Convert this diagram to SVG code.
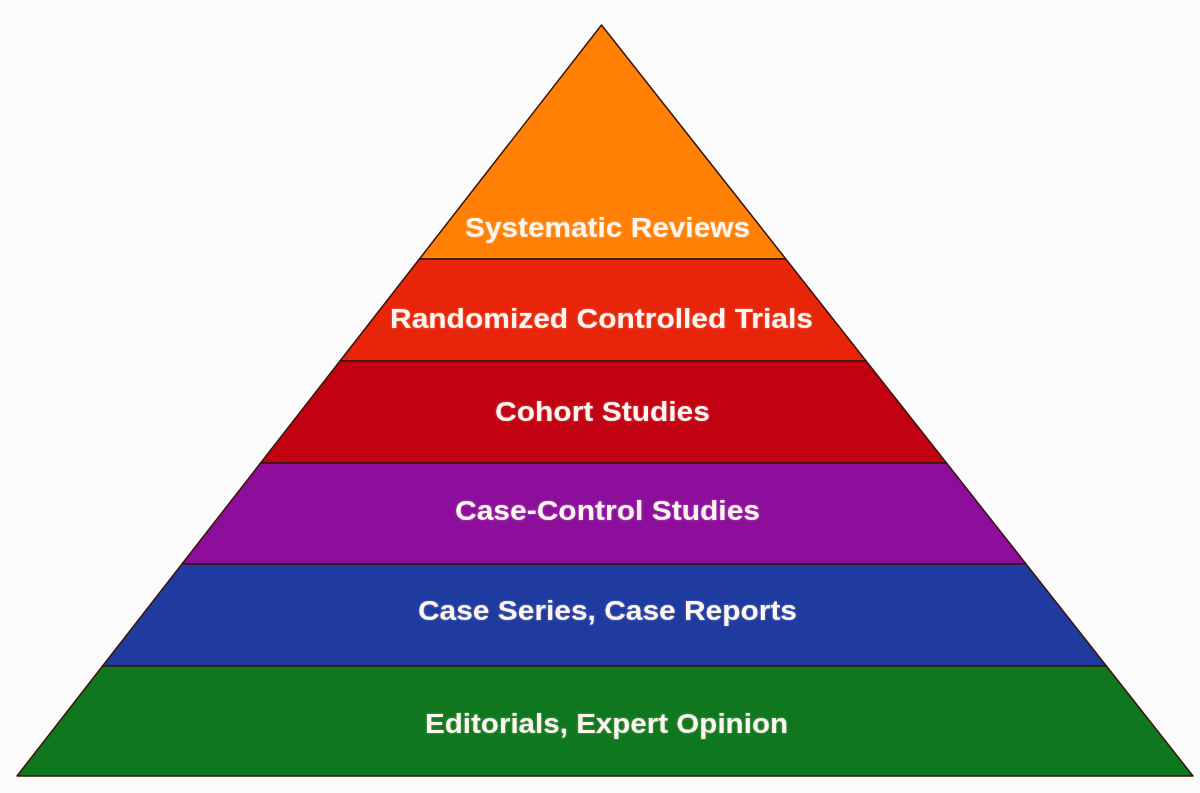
<svg xmlns="http://www.w3.org/2000/svg" width="1200" height="793" viewBox="0 0 1200 793">
<style>
.band{stroke:#3a1408;stroke-width:1.5;stroke-linejoin:round}
.lbl{font-family:"Liberation Sans",Arial,sans-serif;font-weight:bold;font-size:28px;fill:#fdf5ee;text-anchor:middle;filter:url(#glow)}
</style>
<defs>
<filter id="glow" x="-5%" y="-30%" width="110%" height="160%">
<feGaussianBlur in="SourceAlpha" stdDeviation="1.2" result="b"/>
<feFlood flood-color="#ffffff" flood-opacity="0.35"/>
<feComposite in2="b" operator="in" result="g"/>
<feMerge><feMergeNode in="g"/><feMergeNode in="SourceGraphic"/></feMerge>
</filter>
</defs>
<rect width="1200" height="793" fill="#fbfbfb"/>
<g id="layer-systematic-reviews">
<polygon class="band" fill="#ff8004" points="601.5,25 785.8,259 419.4,259"/>
<text class="lbl" x="607.5" y="237" textLength="285" lengthAdjust="spacingAndGlyphs">Systematic Reviews</text>
</g>
<g id="layer-rct">
<polygon class="band" fill="#e8250a" points="419.4,259 785.8,259 866.1,361 340,361"/>
<text class="lbl" x="601.5" y="328" textLength="423" lengthAdjust="spacingAndGlyphs">Randomized Controlled Trials</text>
</g>
<g id="layer-cohort">
<polygon class="band" fill="#c20212" points="340,361 866.1,361 946.5,463 260.6,463"/>
<text class="lbl" x="602.5" y="421" textLength="215" lengthAdjust="spacingAndGlyphs">Cohort Studies</text>
</g>
<g id="layer-case-control">
<polygon class="band" fill="#8e0e9c" points="260.6,463 946.5,463 1026,564 182,564"/>
<text class="lbl" x="607.5" y="520" textLength="305" lengthAdjust="spacingAndGlyphs">Case-Control Studies</text>
</g>
<g id="layer-case-series">
<polygon class="band" fill="#1f3b9f" points="182,564 1026,564 1106.4,666 102.6,666"/>
<text class="lbl" x="607.5" y="620" textLength="379" lengthAdjust="spacingAndGlyphs">Case Series, Case Reports</text>
</g>
<g id="layer-editorials">
<polygon class="band" fill="#0f781f" points="102.6,666 1106.4,666 1193,776 17,776"/>
<text class="lbl" x="606.5" y="733" textLength="363" lengthAdjust="spacingAndGlyphs">Editorials, Expert Opinion</text>
</g>
<g id="connectors"/>
</svg>
